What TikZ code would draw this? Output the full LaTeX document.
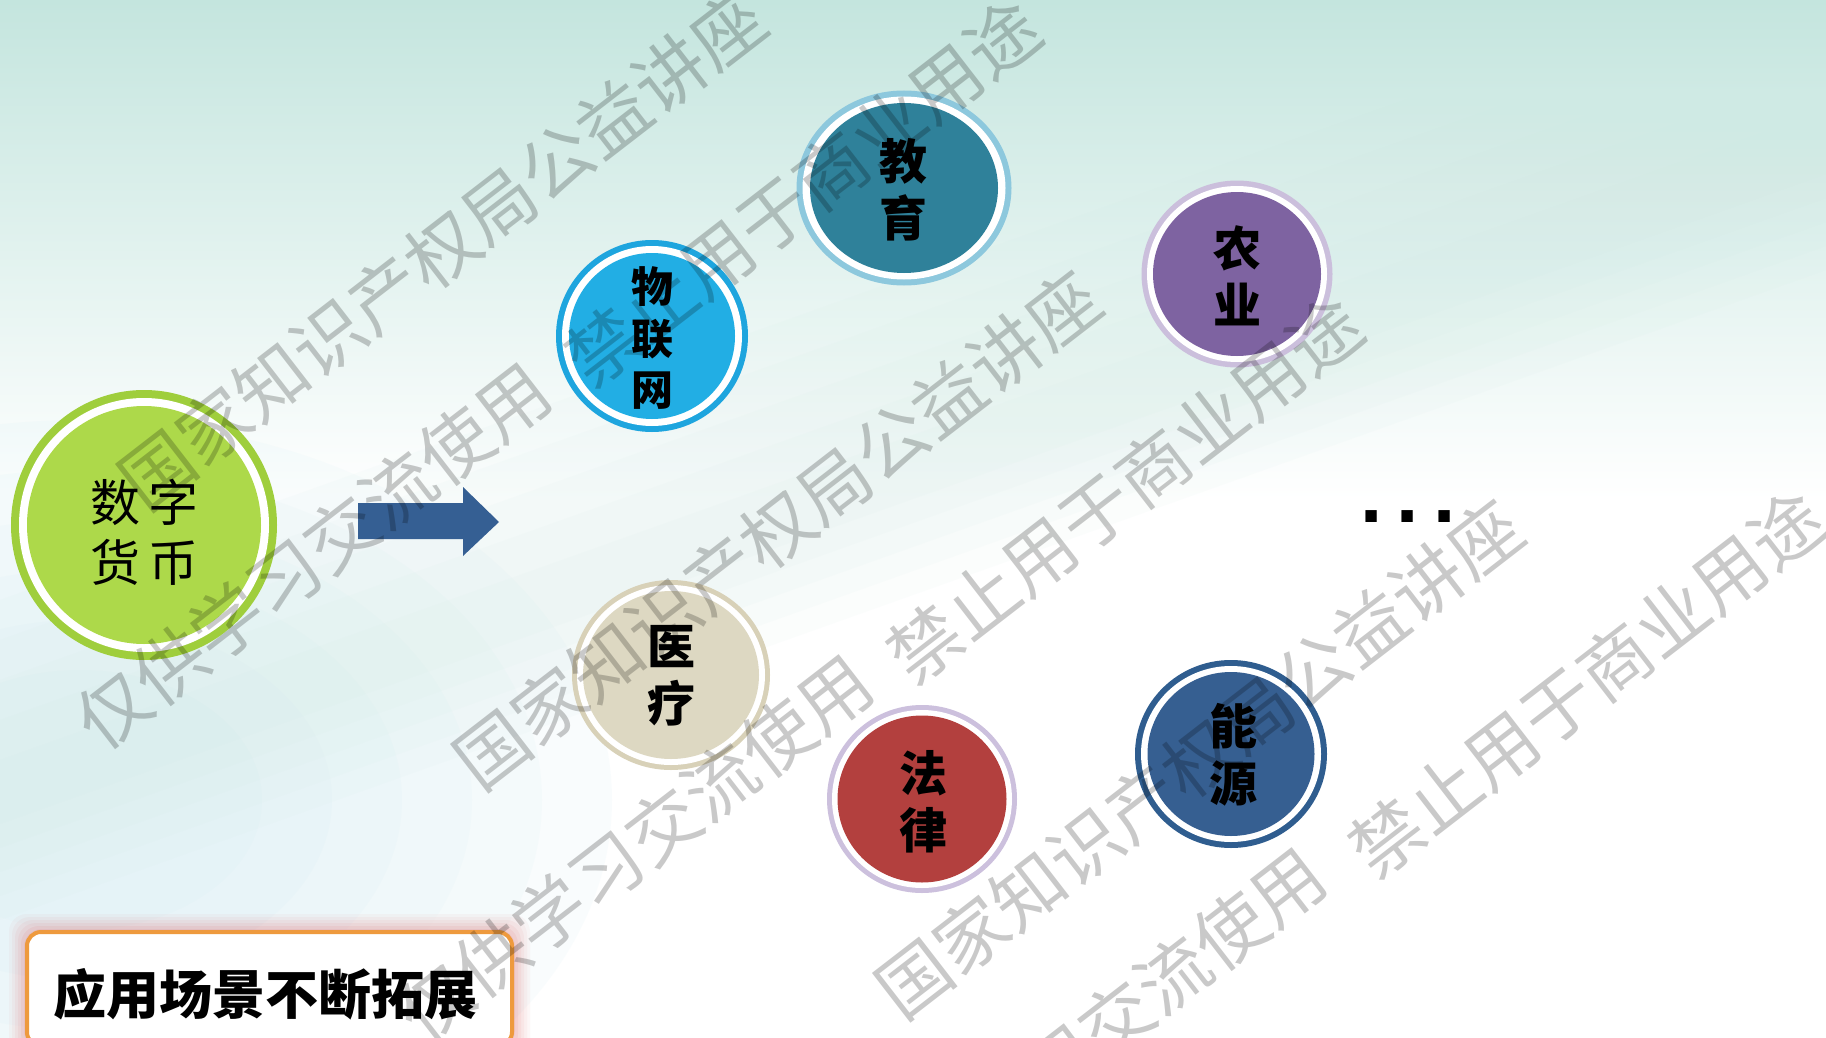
\documentclass[tikz,border=0pt]{standalone}
\usepackage{fontspec}
\newfontfamily\cjk{Noto Sans CJK SC}
\newfontfamily\libsans{Liberation Sans}
\usetikzlibrary{shapes.geometric}
\definecolor{bgtop}{HTML}{C4E5DE}
\definecolor{bgcyan}{HTML}{CDEBF3}
\definecolor{bgband}{HTML}{CFEAE4}
\definecolor{ringGreen}{HTML}{9FCE3C}
\definecolor{fillGreen}{HTML}{ADD94A}
\definecolor{ringEdu}{HTML}{8DC8DD}
\definecolor{fillEdu}{HTML}{2F819A}
\definecolor{ringIot}{HTML}{1EA5DE}
\definecolor{fillIot}{HTML}{22AEE4}
\definecolor{ringAgr}{HTML}{CBBFDC}
\definecolor{fillAgr}{HTML}{7E63A1}
\definecolor{ringMed}{HTML}{D8D1B8}
\definecolor{fillMed}{HTML}{DDD8C2}
\definecolor{ringLaw}{HTML}{CCC0DD}
\definecolor{fillLaw}{HTML}{B3403E}
\definecolor{ringEne}{HTML}{2F5D8F}
\definecolor{fillEne}{HTML}{365F91}
\definecolor{arrowBlue}{HTML}{355F93}
\definecolor{bannerOrange}{HTML}{EE9A3E}
\definecolor{glowRed}{HTML}{E07070}
\begin{document}
\begin{tikzpicture}[x=0.5pt,y=-0.5pt,
  lbl/.style={font=\cjk\bfseries\fontsize{24pt}{28.5pt}\selectfont, align=center, inner sep=0pt, text=black},
  lblsm/.style={font=\cjk\bfseries\fontsize{21pt}{25.8pt}\selectfont, align=center, inner sep=0pt, text=black},
  wm/.style={font=\cjk\fontsize{36pt}{36pt}\selectfont, text=black, text opacity=0.21, inner sep=0pt, rotate=37.7},
  banner/.style={draw=bannerOrange, line width=2pt, fill=white, rounded corners=7pt,
    minimum width=242.5pt, minimum height=57pt, inner sep=0pt}]
\useasboundingbox (0,0) rectangle (1826,1038);
\clip (0,0) rectangle (1826,1038);
% background
\fill[white] (0,0) rectangle (1826,1038);
\shade[top color=bgtop, bottom color=white] (0,0) rectangle (1826,500);
\foreach \r in {380,330,280,230,180,130} \fill[bgcyan, opacity=0.1] (80,800) ellipse [x radius=1.4*\r, y radius=\r];
\foreach \w in {200,160,120,80,40} \fill[bgband, opacity=0.08] (0,800-\w) -- (1826,150-\w) -- (1826,150+0.6*\w) -- (0,800+0.6*\w) -- cycle;

% digital currency
\fill[ringGreen] (144,525) ellipse [x radius=133, y radius=135];
\fill[white] (144,525) ellipse [x radius=125, y radius=127];
\fill[fillGreen] (144,525) ellipse [x radius=117, y radius=119];
\node[font=\cjk\fontsize{25pt}{30pt}\selectfont, align=center, inner sep=0pt] (coin) at (144,532) {数\hspace{4pt}字\\货\hspace{4pt}币};

% arrow
\fill[arrowBlue] (358,503) -- (463,503) -- (463,487) -- (499,522) -- (463,556) -- (463,539) -- (358,539) -- cycle;

% IoT
\fill[ringIot] (652,336) ellipse [x radius=96, y radius=96];
\fill[white] (652,336) ellipse [x radius=90, y radius=90];
\fill[fillIot] (652,336) ellipse [x radius=83, y radius=83];
\node[lblsm] (iot) at (652,338) {物\\联\\网};

% education
\fill[ringEdu] (904,188) ellipse [x radius=107.5, y radius=97.5];
\fill[white] (904,188) ellipse [x radius=101.5, y radius=91.5];
\fill[fillEdu] (904,188) ellipse [x radius=94, y radius=85];
\node[lbl] (edu) at (903,190) {教\\育};

% agriculture
\fill[ringAgr] (1237,274) ellipse [x radius=95.5, y radius=93.5];
\fill[white] (1237,274) ellipse [x radius=90, y radius=88];
\fill[fillAgr] (1237,274) ellipse [x radius=84, y radius=82];
\node[lbl] (agr) at (1237,276) {农\\业};

% medical
\fill[ringMed] (671,675) ellipse [x radius=99, y radius=95];
\fill[white] (671,675) ellipse [x radius=94, y radius=90];
\fill[fillMed] (671,675) ellipse [x radius=88, y radius=84];
\node[lbl] (med) at (671,676) {医\\疗};

% law
\fill[ringLaw] (922,799) ellipse [x radius=95, y radius=94];
\fill[white] (922,799) ellipse [x radius=90, y radius=89];
\fill[fillLaw] (922,799) ellipse [x radius=84.5, y radius=83.5];
\node[lbl] (law) at (923,802) {法\\律};

% energy
\fill[ringEne] (1231,754) ellipse [x radius=96, y radius=94];
\fill[white] (1231,754) ellipse [x radius=90, y radius=88];
\fill[fillEne] (1231,754) ellipse [x radius=83.5, y radius=82];
\node[lbl] (ene) at (1233,755) {能\\源};

% more
\node[font=\libsans\bfseries\fontsize{40pt}{40pt}\selectfont, anchor=base, inner sep=0pt] (more) at (1408,522) {.\kern7pt.\kern7pt.};

% banner with glow
\foreach \d/\o in {18/0.05,15/0.06,12/0.07,9/0.08,6/0.1,3/0.12}
  \fill[glowRed, opacity=\o, rounded corners=9pt] (27-\d,932-\d) rectangle (512+\d,1046+\d);
\node[banner] (ban) at (269.5,989) {};
\node[font=\cjk\bfseries\fontsize{26.5pt}{26.5pt}\selectfont, inner sep=0pt] (bantext) at (265.5,994) {应用场景不断拓展};

% watermarks
\node[wm] (w1) at (442,250) {国家知识产权局公益讲座};
\node[wm] (w2) at (803,193) {禁止用于商业用途};
\node[wm] (w3) at (313,556) {仅供学习交流使用};
\node[wm] (w4) at (777,530) {国家知识产权局公益讲座};
\node[wm] (w5) at (1125,490) {禁止用于商业用途};
\node[wm] (w6) at (635,848) {仅供学习交流使用};
\node[wm] (w7) at (1199,759) {国家知识产权局公益讲座};
\node[wm] (w8) at (1587,684) {禁止用于商业用途};
\node[wm] (w9) at (1088,1041) {仅供学习交流使用};
\end{tikzpicture}
\end{document}
